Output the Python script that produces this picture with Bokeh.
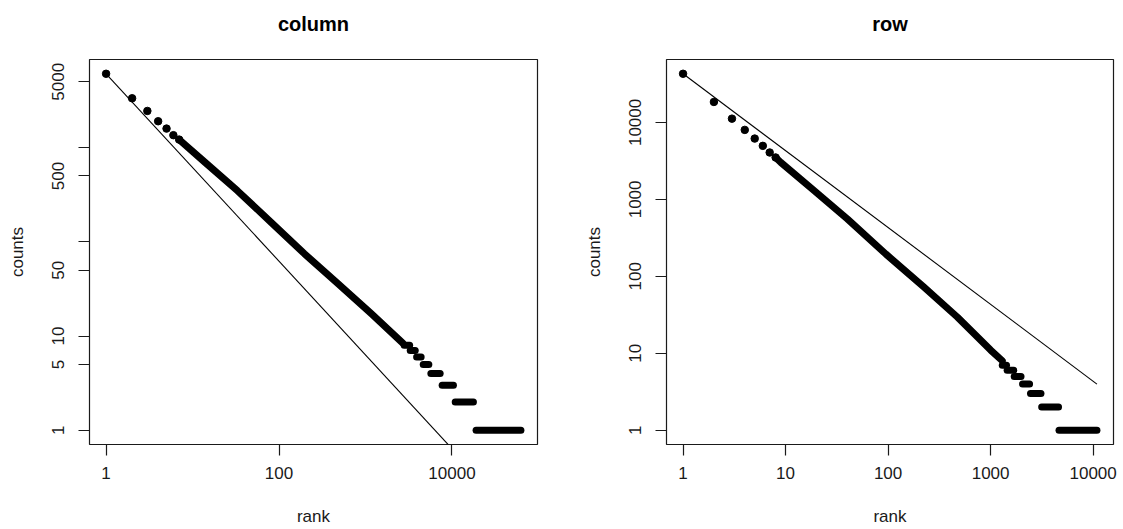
import math
from bokeh.plotting import figure
from bokeh.layouts import row
from bokeh.models import Range1d, FixedTicker, CustomJSTickFormatter, LinearAxis
from bokeh.embed import file_html
from bokeh.resources import INLINE

# ---------------- data: "column" panel ----------------
col_dot_rank = [1, 2, 3, 4, 5, 6, 7]
col_dot_count = [6080, 3340, 2450, 1905, 1592, 1355, 1216]
col_band_rank = [7, 14, 33, 81, 197, 480, 1167, 2700]
col_band_count = [1216, 695, 349, 161, 74.6, 36, 17.3, 8.4]
col_step_count = [8, 7, 6, 5, 4, 3, 2, 1]
col_step_start = [2800, 3290, 3900, 4650, 5700, 7700, 10900, 19000]
col_step_end = [3240, 3760, 4400, 5400, 7300, 10400, 17700, 62700]
col_fit_rank = [1, 62700]
col_fit_count = [6080, 0.1026]
col_x_ticks = [1, 100, 10000]
col_x_labels = ["1", "100", "10000"]
col_y_ticks = [1, 5, 10, 50, 100, 500, 1000, 5000]
col_y_labels = ["1", "5", "10", "50", "", "500", "", "5000"]

# ---------------- data: "row" panel ----------------
row_dot_rank = [1, 2, 3, 4, 5, 6, 7, 8]
row_dot_count = [42900, 18450, 11200, 8000, 6170, 4960, 4065, 3500]
row_band_rank = [8, 9, 19, 40, 95, 224, 473, 1000, 1300]
row_band_count = [3500, 3015, 1297, 557, 195, 72.5, 29.6, 11, 8]
row_step_count = [7, 6, 5, 4, 3, 2, 1]
row_step_start = [1300, 1450, 1700, 2050, 2450, 3150, 4650]
row_step_end = [1430, 1680, 1980, 2400, 3100, 4600, 10900]
row_fit_rank = [1, 10900]
row_fit_count = [42900, 3.98]
row_x_ticks = [1, 10, 100, 1000, 10000]
row_x_labels = ["1", "10", "100", "1000", "10000"]
row_y_ticks = [1, 10, 100, 1000, 10000]
row_y_labels = ["1", "10", "100", "1000", "10000"]

FONT = "Liberation Sans"
INK = "#1a1a1a"
HEIGHT = 529
TOP, BOTTOM = 59, 85


def padded(lo, hi):
    a, b = math.log10(lo), math.log10(hi)
    d = (b - a) * 0.04
    return Range1d(10 ** (a - d), 10 ** (b + d))


def panel(title, dot_r, dot_c, band_r, band_c, st_c, st_s, st_e, fit_r, fit_c,
          xt, xl, yt, yl, width, bl, br):
    all_r = dot_r + band_r + st_s + st_e
    all_c = dot_c + band_c + st_c
    p = figure(width=width, height=HEIGHT, x_axis_type="log", y_axis_type="log",
               x_range=padded(min(all_r), max(all_r)),
               y_range=padded(min(all_c), max(all_c)),
               output_backend="svg", toolbar_location=None,
               min_border_left=bl, min_border_right=br,
               min_border_top=TOP, min_border_bottom=BOTTOM)
    p.background_fill_color = "white"
    p.border_fill_color = "white"
    p.outline_line_color = INK
    p.outline_line_width = 1.2
    p.grid.visible = False

    bottom_axis = p.below[0]
    left_axis = p.left[0]

    # invisible spacer above the frame (one hidden tick), pushes the title upward
    spacer = LinearAxis(ticker=FixedTicker(ticks=[xt[0]], minor_ticks=[]),
                        axis_line_color=None, major_tick_line_color=None,
                        minor_tick_line_color=None, major_tick_in=0,
                        major_tick_out=20, major_label_standoff=0,
                        major_label_overrides={xt[0]: ""},
                        major_label_text_font_size="1px",
                        major_label_text_alpha=0, axis_label=None)
    p.add_layout(spacer, "above")

    p.title.text = title
    p.title.align = "center"
    p.title.text_font = FONT
    p.title.text_font_size = "20px"
    p.title.text_font_style = "bold"
    p.title.text_color = "black"
    p.title.standoff = 10

    fmt = CustomJSTickFormatter(code="return tick.toString();")
    for ax, ticks, labels, lab in ((bottom_axis, xt, xl, "rank"), (left_axis, yt, yl, "counts")):
        ax.ticker = FixedTicker(ticks=ticks, minor_ticks=[])
        ax.formatter = fmt
        ax.major_label_overrides = {t: s for t, s in zip(ticks, labels)}
        ax.axis_line_color = None
        ax.major_tick_line_color = INK
        ax.major_tick_line_width = 1.2
        ax.major_tick_in = 0
        ax.major_tick_out = 11
        ax.minor_tick_line_color = None
        ax.major_label_text_font = FONT
        ax.major_label_text_font_size = "17px"
        ax.major_label_text_color = INK
        ax.axis_label = lab
        ax.axis_label_text_font = FONT
        ax.axis_label_text_font_size = "17px"
        ax.axis_label_text_font_style = "normal"
        ax.axis_label_text_color = INK
    bottom_axis.major_label_standoff = 11
    left_axis.major_label_standoff = 14
    bottom_axis.axis_label_standoff = 25
    left_axis.axis_label_standoff = 23
    left_axis.major_label_orientation = "vertical"

    # fitted power-law line
    p.line(fit_r, fit_c, line_color="black", line_width=1.1)
    # dense part of the rank/count points
    p.line(band_r, band_c, line_color="black", line_width=7,
           line_cap="round", line_join="round")
    # runs of equal counts at the tail
    p.segment(x0=st_s, y0=st_c, x1=st_e, y1=st_c, line_color="black",
              line_width=7, line_cap="round")
    # individual top-ranked points
    p.scatter(dot_r, dot_c, size=7.5, fill_color="black", line_color="black")
    return p


p1 = panel("column", col_dot_rank, col_dot_count, col_band_rank, col_band_count,
           col_step_count, col_step_start, col_step_end, col_fit_rank, col_fit_count,
           col_x_ticks, col_x_labels, col_y_ticks, col_y_labels, 561, 89, 24)
p2 = panel("row", row_dot_rank, row_dot_count, row_band_rank, row_band_count,
           row_step_count, row_step_start, row_step_end, row_fit_rank, row_fit_count,
           row_x_ticks, row_x_labels, row_y_ticks, row_y_labels, 562, 105, 10)

layout = row(p1, p2)
open("out.html", "w").write(file_html(layout, INLINE))
